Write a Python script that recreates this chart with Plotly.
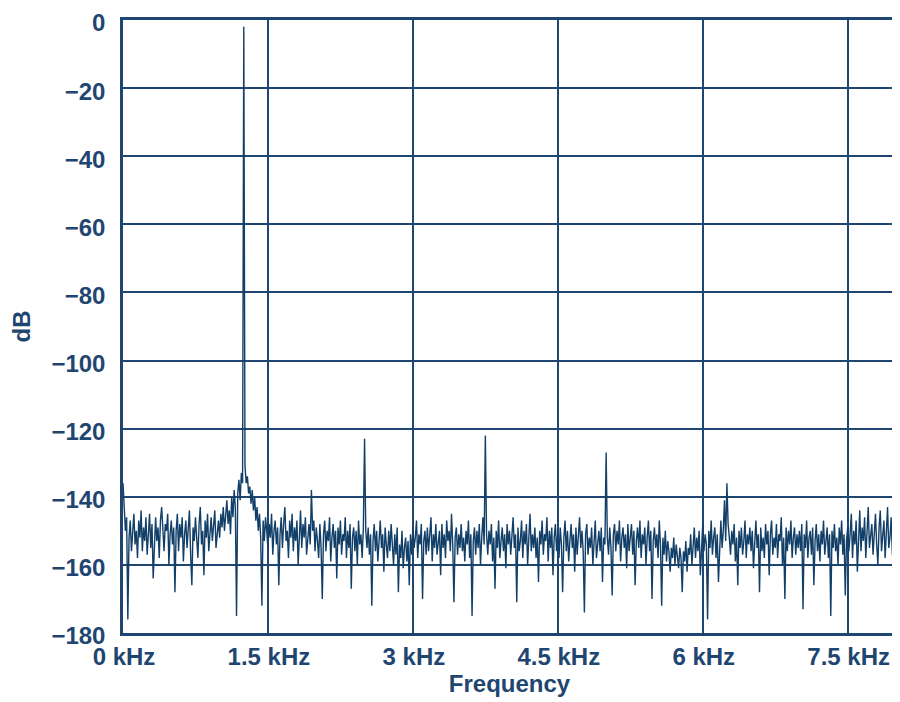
import numpy as np
import plotly.graph_objects as go

# -- niveles del espectro (dB), un valor cada 12.5 Hz de 0 a 8 kHz (20 valores = 0.25 kHz por fila)
nivel_db = [
    -136, -142, -150, -146, -176, -152, -147, -156, -149, -145, -154, -150, -158, -147, -152, -144, -156, -149, -153, -146,
    -157, -150, -145, -155, -148, -164, -151, -146, -153, -149, -158, -147, -143, -152, -156, -148, -150, -145, -160, -151,
    -147, -154, -149, -168, -150, -145, -156, -148, -152, -146, -159, -151, -147, -155, -150, -144, -157, -166, -149, -153,
    -146, -151, -158, -148, -143, -154, -150, -163, -147, -152, -145, -156, -149, -146, -153, -148, -144, -155, -150, -147,
    -152, -145, -149, -143, -150, -146, -141, -148, -144, -151, -140, -146, -138, -143, -175, -139, -135, -141, -133, -136,
    -2, -131, -136, -134, -139, -137, -142, -138, -144, -140, -147, -143, -150, -145, -152, -172, -147, -153, -146, -150,
    -155, -148, -152, -145, -157, -150, -147, -154, -149, -166, -151, -146, -155, -148, -143, -153, -150, -158, -147, -152,
    -145, -156, -149, -153, -147, -160, -150, -144, -155, -148, -152, -146, -157, -151, -148, -154, -138, -150, -147, -156,
    -149, -153, -158, -148, -155, -170, -151, -147, -156, -150, -153, -146, -159, -152, -148, -155, -150, -164, -149, -154,
    -147, -157, -151, -153, -146, -158, -150, -155, -148, -167, -152, -149, -156, -150, -160, -147, -154, -151, -158, -149,
    -123, -150, -155, -149, -157, -151, -172, -153, -148, -156, -150, -159, -152, -147, -155, -151, -162, -149, -154, -158,
    -150, -156, -148, -153, -160, -151, -157, -149, -168, -154, -158, -150, -161, -155, -152, -159, -153, -166, -151, -157,
    -149, -155, -152, -147, -158, -151, -154, -148, -170, -153, -150, -157, -149, -156, -152, -146, -159, -151, -155, -148,
    -157, -152, -150, -163, -148, -155, -151, -158, -147, -153, -150, -156, -145, -154, -171, -152, -149, -157, -151, -155,
    -148, -156, -152, -159, -150, -154, -147, -158, -151, -175, -153, -149, -157, -150, -155, -148, -160, -152, -146, -154,
    -122, -151, -157, -150, -154, -148, -159, -152, -167, -150, -155, -147, -158, -153, -149, -156, -151, -161, -148, -154,
    -150, -157, -152, -146, -155, -151, -171, -149, -156, -153, -147, -158, -150, -154, -148, -160, -152, -145, -156, -151,
    -155, -149, -158, -152, -165, -150, -154, -147, -157, -151, -153, -146, -159, -150, -155, -149, -163, -152, -148, -156,
    -151, -158, -149, -154, -168, -152, -147, -156, -150, -159, -153, -148, -155, -151, -162, -149, -157, -152, -146, -155,
    -150, -156, -174, -151, -148, -157, -152, -155, -149, -160, -151, -147, -158, -153, -150, -156, -149, -165, -152, -154,
    -127, -152, -157, -149, -155, -169, -151, -148, -156, -150, -154, -147, -159, -152, -149, -155, -151, -161, -148, -156,
    -152, -148, -157, -150, -166, -153, -149, -155, -147, -158, -151, -154, -149, -160, -152, -147, -156, -150, -170, -153,
    -149, -155, -151, -158, -147, -154, -172, -152, -157, -150, -159, -153, -156, -162, -155, -158, -152, -160, -154, -157,
    -161, -155, -158, -168, -156, -159, -153, -162, -155, -157, -151, -160, -154, -149, -158, -152, -156, -150, -163, -153,
    -148, -156, -151, -154, -176, -150, -155, -147, -157, -152, -149, -158, -151, -165, -153, -147, -155, -150, -141, -153,
    -136, -148, -152, -157, -150, -154, -148, -159, -152, -166, -150, -155, -149, -157, -153, -147, -158, -151, -154, -149,
    -156, -150, -161, -152, -147, -155, -151, -168, -149, -156, -152, -158, -148, -154, -150, -163, -151, -147, -157, -152,
    -155, -148, -158, -151, -153, -146, -160, -152, -170, -149, -156, -150, -154, -147, -158, -152, -149, -157, -151, -155,
    -150, -156, -148, -173, -151, -155, -147, -158, -152, -150, -157, -149, -166, -153, -148, -156, -151, -159, -150, -154,
    -147, -157, -152, -149, -158, -151, -175, -150, -155, -148, -156, -152, -160, -149, -154, -147, -157, -151, -169, -153,
    -149, -156, -151, -145, -158, -150, -154, -147, -162, -151, -144, -156, -149, -153, -146, -158, -150, -143, -155, -151,
    -148, -157, -150, -145, -154, -160, -149, -144, -156, -151, -147, -158, -150, -143, -155, -152, -146, -157, -149, -145,
    -153,
]
frecuencia_khz = np.linspace(0, 8, len(nivel_db))

ticks_x = [0, 1.5, 3, 4.5, 6, 7.5]
etiquetas_x = ["0 kHz", "1.5 kHz", "3 kHz", "4.5 kHz", "6 kHz", "7.5 kHz"]
ticks_y = list(range(0, -181, -20))

azul = "#1f4670"
fuente = "Liberation Sans"
tam = 24

fig = go.Figure()
fig.add_trace(go.Scatter(x=frecuencia_khz, y=nivel_db, mode="lines",
                         line=dict(color="#123f68", width=1.4), showlegend=False))

fig.update_layout(
    width=900, height=702,
    margin=dict(l=115, r=12, t=12, b=77),
    plot_bgcolor="white", paper_bgcolor="white",
    font=dict(family=fuente, size=tam, color=azul),
)
fig.update_xaxes(
    range=[0, 8], tickvals=ticks_x, ticktext=etiquetas_x,
    showgrid=True, gridcolor=azul, gridwidth=2,
    showline=True, linecolor=azul, linewidth=2.5, mirror=True,
    ticks="", tickfont=dict(family=fuente, size=tam, color=azul, weight="bold"),
    ticklabelshift=1, ticklabelstandoff=0, ticklabeloverflow="allow",
    title=dict(text="<b>Frequency</b>", standoff=5, font=dict(size=tam, color=azul)),
    zeroline=False, automargin=False,
)
fig.update_yaxes(
    range=[-180, 0], tickvals=ticks_y,
    showgrid=True, gridcolor=azul, gridwidth=2,
    showline=True, linecolor=azul, linewidth=2.5, mirror=True,
    ticks="", tickfont=dict(family=fuente, size=tam, color=azul, weight="bold"),
    ticklabelstandoff=10, ticklabeloverflow="allow", ticklabelshift=3,
    title=dict(text="<b>dB</b>", standoff=31, font=dict(size=tam, color=azul)),
    zeroline=False, automargin=False,
)

fig.write_html("out.html")
